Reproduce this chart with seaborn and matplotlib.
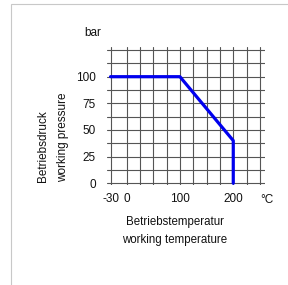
import matplotlib
matplotlib.use("Agg")
import matplotlib.pyplot as plt
import seaborn as sns
import pandas as pd

temperature = [-30, 100, 200, 200]
pressure = [100, 100, 40, 0]
xtick_vals = [-30, 0, 100, 200]
ytick_vals = [0, 25, 50, 75, 100]
xgrid = [-30, 0, 25, 50, 75, 100, 125, 150, 175, 200, 225, 250]
ygrid = [0, 12.5, 25, 37.5, 50, 62.5, 75, 87.5, 100, 112.5, 125]

sns.set_style("white")
fam = ["Liberation Sans Narrow", "Liberation Sans", "DejaVu Sans"]
plt.rcParams["font.family"] = fam
plt.rcParams["axes.unicode_minus"] = False

fig = plt.figure(figsize=(2.88, 2.85), dpi=100)
ax = fig.add_axes([0.372, 0.351, 0.548, 0.485])

for gx in xgrid:
    ax.axvline(gx, color="#555555", lw=0.8, zorder=1)
for gy in ygrid:
    ax.axhline(gy, color="#555555", lw=0.8, zorder=1)

df = pd.DataFrame({"t": temperature, "p": pressure})
sns.lineplot(data=df, x="t", y="p", sort=False, estimator=None, color="#0000ee",
             lw=2.3, ax=ax, zorder=3)

ax.set_xlim(-36.4, 259.4)
ax.set_ylim(-1.6, 128.1)
ax.set_xticks(xtick_vals)
ax.set_yticks(ytick_vals)
ax.tick_params(length=0, labelsize=8.5, colors="#111111")
ax.tick_params(axis="x", pad=6)
ax.tick_params(axis="y", pad=8)
for s in ax.spines.values():
    s.set_visible(False)
ax.set_xlabel("")
ax.set_ylabel("")

fig.text(267 / 288, 1 - 200 / 285, "°C", fontsize=8.5, ha="center", va="center", color="#111111")
fig.text(93 / 288, 1 - 33 / 285, "bar", fontsize=8.5, ha="center", va="center", color="#111111")
fig.text(175 / 288, 1 - 222 / 285, "Betriebstemperatur", fontsize=8.3, ha="center", va="center", color="#111111")
fig.text(175 / 288, 1 - 240 / 285, "working temperature", fontsize=8.3, ha="center", va="center", color="#111111")
fig.text(43 / 288, 1 - 182 / 285, "Betriebsdruck", fontsize=8.5, rotation=90, ha="center", va="bottom", color="#111111")
fig.text(63 / 288, 1 - 182 / 285, "working pressure", fontsize=8.5, rotation=90, ha="center", va="bottom", color="#111111")

border = plt.Rectangle((11 / 288, -0.1), 1.2, 1 - 4 / 285 + 0.1, transform=fig.transFigure,
                       fill=False, edgecolor="#c8c8c8", lw=0.8)
fig.patches.append(border)

fig.savefig("out.png", dpi=100)
